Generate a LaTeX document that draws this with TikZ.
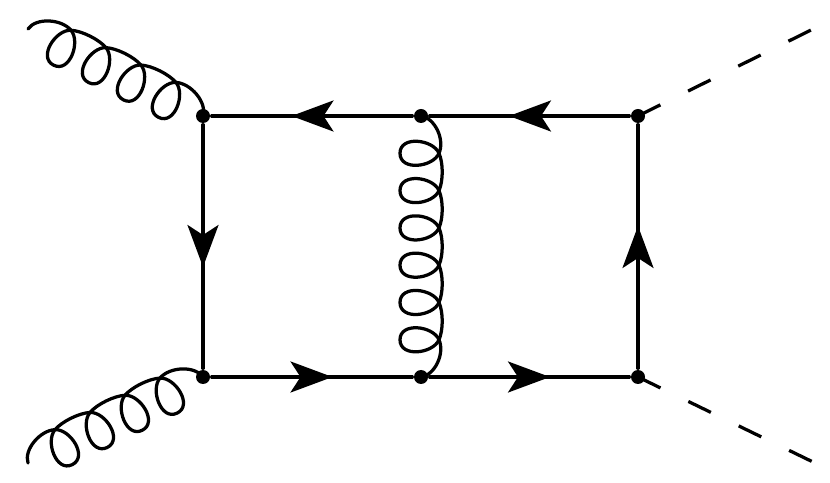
\documentclass[tikz,border=0pt]{standalone}
\usepackage{amsmath,amssymb}
\usepackage{tikz}
\usetikzlibrary{arrows.meta,calc,decorations.markings}

% gluon between two named points: from, to, number of loops
\newcommand{\gluonline}[3]{
  \path let \p1=($(#2)-(#1)$), \n1={veclen(\x1,\y1)}, \n2={atan2(\y1,\x1)} in
    \pgfextra{\xdef\gluonlen{\n1}\xdef\gluonang{\n2}};
  \begin{scope}[shift={(#1)}, rotate=\gluonang, x=0.02cm, y=0.02cm]
    \pgfmathsetmacro\gluonL{\gluonlen/0.56905}
    \pgfmathsetmacro\gluonstep{\gluonL/(#3+1)}
    \draw (0,0) .. controls (2,14) and (\gluonstep-13.6,24) .. (\gluonstep,18);
    \foreach \k in {1,...,#3} {
      \pgfmathsetmacro\S{\k*\gluonstep}
      \draw (\S,18) .. controls (\S+14,12) and (\S+18,-21) .. (\S,-21)
        .. controls (\S-18,-21) and (\S-14,12) .. (\S,18);
      \ifnum\k<#3
        \draw (\S,18) .. controls (\S+10,22.3) and (\S+\gluonstep-10,22.3) .. (\S+\gluonstep,18);
      \fi
    }
    \draw (\gluonL-\gluonstep,18) .. controls (\gluonL-\gluonstep+13.6,24) and (\gluonL-2,14) .. (\gluonL,0);
  \end{scope}
}

\begin{document}
\begin{tikzpicture}[
    line width=0.065cm,
    line cap=round,
    vertex/.style={circle, fill=black, inner sep=0pt, minimum size=0.28cm},
    fermion/.style={postaction={decorate}, decoration={markings,
        mark=at position 0.5 with {\arrow[xshift=0.41cm]{Stealth[length=0.84cm,width=0.62cm,inset=0.2cm]}}}},
    scalar/.style={dash pattern=on 0.5cm off 0.62cm, line cap=butt}
  ]
  \useasboundingbox (0,0) rectangle (16.6,9.64);
  \node[vertex] (tl) at (4.06,7.32) {};
  \node[vertex] (tm) at (8.42,7.32) {};
  \node[vertex] (tr) at (12.76,7.32) {};
  \node[vertex] (bl) at (4.06,2.10) {};
  \node[vertex] (bm) at (8.42,2.10) {};
  \node[vertex] (br) at (12.76,2.10) {};
  \coordinate (g1) at (0.56,9.06);
  \coordinate (g2) at (0.56,0.38);
  \coordinate (h1) at (16.26,9.06);
  \coordinate (h2) at (16.26,0.40);
  \draw[fermion] (tr) -- (tm);
  \draw[fermion] (tm) -- (tl);
  \draw[fermion] (tl) -- (bl);
  \draw[fermion] (bl) -- (bm);
  \draw[fermion] (bm) -- (br);
  \draw[fermion] (br) -- (tr);
  \gluonline{tm.center}{bm.center}{6}
  \gluonline{g1}{tl.center}{4}
  \gluonline{g2}{bl.center}{4}
  \draw[scalar] (tr.center) -- (h1);
  \draw[scalar] (br.center) -- (h2);
\end{tikzpicture}
\end{document}
